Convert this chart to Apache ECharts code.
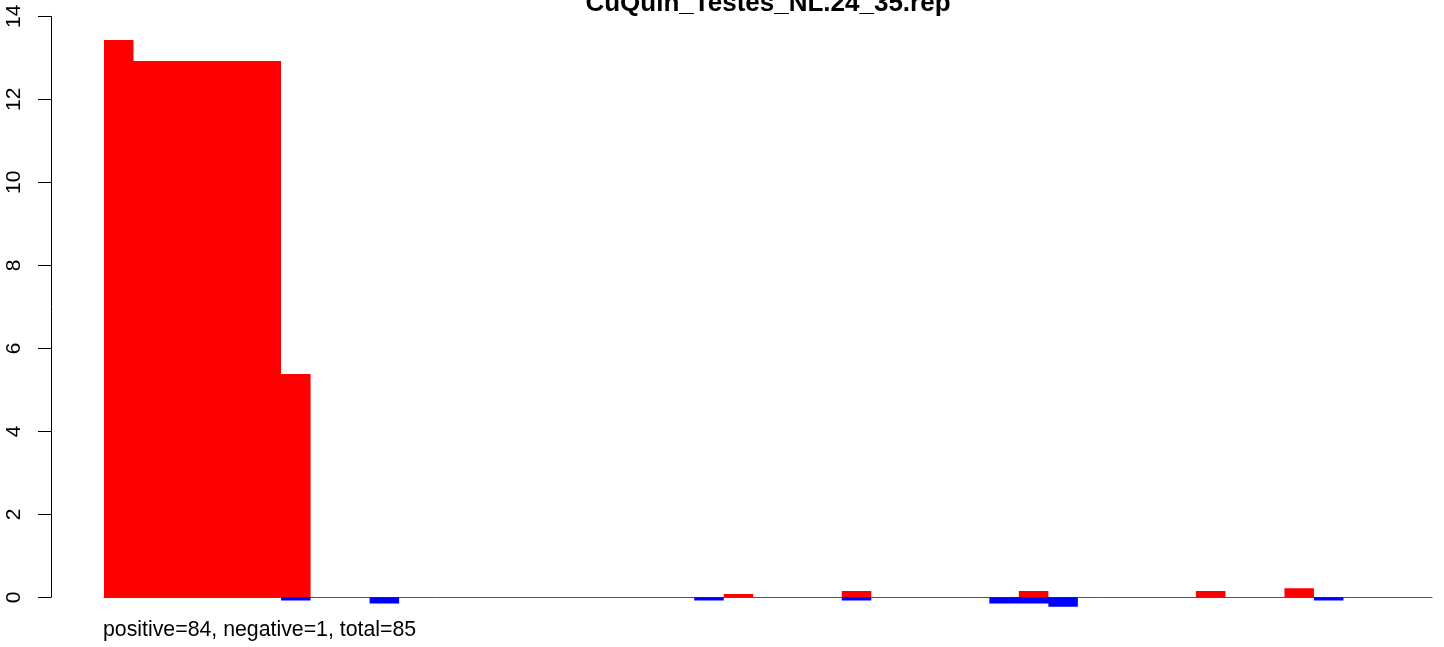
<!DOCTYPE html>
<html>

<head>
    <meta charset="utf-8">
    <style>
        body {
            margin: 0;
            background-color: #fff;
        }

        #main {
            width: 1444px;
            height: 647px;
        }
    </style>
</head>

<body>
    <div id="main"></div>

    <script src="https://cdn.jsdelivr.net/npm/echarts@6/dist/echarts.min.js"></script>
    <script type="text/javascript">
        // 45 bins, red = positive part, blue = negative part
        var bins = [];
        for (var i = 1; i <= 45; i++) {
            bins.push(String(i));
        }

        var positiveValues = [
            13.43, 12.92, 12.92, 12.92, 12.92, 12.92, 5.38, null, null, null,
            null, null, null, null, null, null, null, null, null, null,
            null, 0.08, null, null, null, 0.15, null, null, null, null,
            null, 0.15, null, null, null, null, null, 0.15, null, null,
            0.22, null, null, null, null
        ];

        var negativeValues = [
            null, null, null, null, null, null, -0.08, null, null, -0.15,
            null, null, null, null, null, null, null, null, null, null,
            -0.08, null, null, null, null, -0.08, null, null, null, null,
            -0.15, -0.15, -0.23, null, null, null, null, null, null, null,
            null, -0.08, null, null, null
        ];

        var chartTitle = 'CuQuin_Testes_NL.24_35.rep';
        var footNote = 'positive=84, negative=1, total=85';

        var myChart = echarts.init(document.getElementById('main'));

        var option = {
            backgroundColor: '#fff',
            animation: false,
            textStyle: {
                fontFamily: 'Liberation Sans, Arial, sans-serif'
            },
            grid: {
                left: 104,
                right: 12,
                top: 16.3,
                bottom: 49.7,
                containLabel: false
            },
            xAxis: {
                type: 'category',
                data: bins,
                axisLine: {
                    show: true,
                    lineStyle: { color: '#555', width: 1 }
                },
                axisTick: { show: false },
                axisLabel: { show: false },
                splitLine: { show: false }
            },
            yAxis: {
                type: 'value',
                min: 0,
                max: 14,
                interval: 2,
                offset: 53,
                axisLine: {
                    show: true,
                    lineStyle: { color: '#000', width: 1 }
                },
                axisTick: {
                    show: true,
                    length: 13,
                    lineStyle: { color: '#000', width: 1 }
                },
                axisLabel: {
                    rotate: 90,
                    margin: 26,
                    fontSize: 21,
                    color: '#000',
                    fontFamily: 'Liberation Sans, Arial, sans-serif'
                },
                splitLine: { show: false }
            },
            graphic: [
                {
                    type: 'text',
                    x: 768,
                    y: 4,
                    style: {
                        text: chartTitle,
                        fontSize: 26,
                        fontWeight: 'bold',
                        fontFamily: 'Liberation Sans, Arial, sans-serif',
                        fill: '#000',
                        textAlign: 'center',
                        textVerticalAlign: 'middle'
                    }
                },
                {
                    type: 'text',
                    x: 103,
                    y: 630,
                    style: {
                        text: footNote,
                        fontSize: 21.3,
                        fontFamily: 'Liberation Sans, Arial, sans-serif',
                        fill: '#000',
                        textAlign: 'left',
                        textVerticalAlign: 'middle'
                    }
                }
            ],
            series: [
                {
                    name: 'positive',
                    type: 'bar',
                    data: positiveValues,
                    barCategoryGap: 0,
                    barGap: '-100%',
                    clip: false,
                    // large mode fills all bars as one path, so no seams between neighbours
                    large: true,
                    largeThreshold: 5,
                    itemStyle: { color: '#ff0000' }
                },
                {
                    name: 'negative',
                    type: 'bar',
                    data: negativeValues,
                    barCategoryGap: 0,
                    barGap: '-100%',
                    clip: false,
                    large: true,
                    largeThreshold: 5,
                    itemStyle: { color: '#0000ff' }
                }
            ]
        };

        myChart.setOption(option);
    </script>
</body>

</html>
